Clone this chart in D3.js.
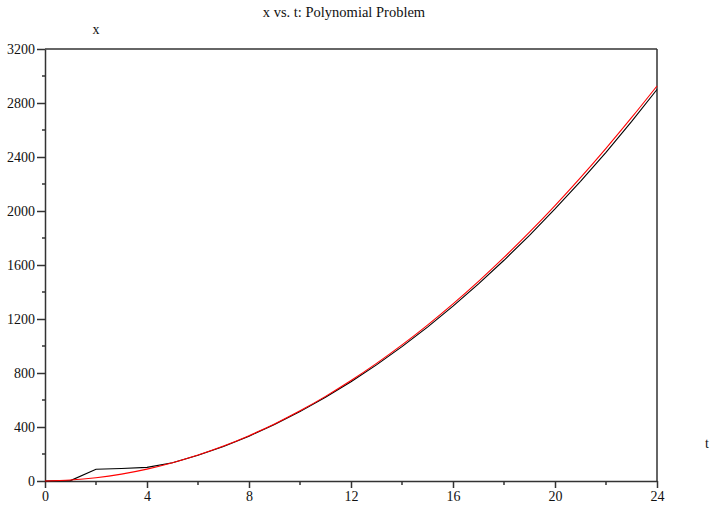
<!DOCTYPE html>
<html>
<head>
<meta charset="utf-8">
<script src="https://cdn.jsdelivr.net/npm/d3@7"></script>
<style>
  body { margin: 0; background: #fff; }
  svg text { font-family: "Liberation Serif", "Times New Roman", serif; fill: #111; }
</style>
</head>
<body>
<div id="chart"></div>
<script>
// values
const tValues = [0, 1, 2, 3, 4, 5, 6, 7, 8, 9, 10, 11, 12, 13, 14, 15, 16, 17, 18, 19, 20, 21, 22, 23, 24];
const exactX  = [0, 7, 24, 51, 88, 135, 192, 259, 336, 423, 520, 627, 744, 871, 1008, 1155, 1312, 1479, 1656, 1843, 2040, 2247, 2464, 2691, 2926];
const approxX = [0, 3, 87, 93, 101, 135, 190, 256, 332, 418, 514, 620, 735, 860, 995, 1140, 1295, 1460, 1635, 1820, 2015, 2220, 2435, 2662, 2900];
const xTicks = [0, 4, 8, 12, 16, 20, 24];
const xMinor = [2, 6, 10, 14, 18, 22];
const yTicks = [0, 400, 800, 1200, 1600, 2000, 2400, 2800, 3200];
const yMinor = [200, 600, 1000, 1400, 1800, 2200, 2600, 3000];

const W = 711, H = 505;
const margin = { top: 49, right: 54, bottom: 24, left: 45 },
  width = W - margin.left - margin.right,
  height = H - margin.top - margin.bottom;

const svg = d3.select("#chart")
  .append("svg")
  .attr("width", W)
  .attr("height", H);

const g = svg.append("g")
  .attr("transform", `translate(${margin.left},${margin.top})`);

const x = d3.scaleLinear().domain([0, 24]).range([0, width]);
const y = d3.scaleLinear().domain([0, 3200]).range([height, 0]);

const axisColor = "#333";

// frame (top and right)
g.append("line")
  .attr("x1", 0).attr("x2", width).attr("y1", 0).attr("y2", 0)
  .attr("stroke", axisColor).attr("stroke-width", 1.5);
g.append("line")
  .attr("x1", width).attr("x2", width).attr("y1", 0).attr("y2", height)
  .attr("stroke", axisColor).attr("stroke-width", 1.5);

// bottom axis
const xAxis = g.append("g")
  .attr("transform", `translate(0,${height})`)
  .call(d3.axisBottom(x).tickValues(xTicks).tickFormat(d3.format("d"))
    .tickSize(7).tickPadding(3).tickSizeOuter(0));
xAxis.append("g").selectAll("line")
  .data(xMinor)
  .join("line")
  .attr("x1", d => x(d)).attr("x2", d => x(d))
  .attr("y1", 0).attr("y2", 4)
  .attr("stroke", axisColor).attr("stroke-width", 1.5);

// left axis
const yAxis = g.append("g")
  .call(d3.axisLeft(y).tickValues(yTicks).tickFormat(d3.format("d"))
    .tickSize(8).tickPadding(2).tickSizeOuter(0));
yAxis.append("g").selectAll("line")
  .data(yMinor)
  .join("line")
  .attr("x1", 0).attr("x2", -3)
  .attr("y1", d => y(d)).attr("y2", d => y(d))
  .attr("stroke", axisColor).attr("stroke-width", 1.5);

[xAxis, yAxis].forEach(a => {
  a.attr("font-family", null);
  a.select(".domain").attr("stroke", axisColor).attr("stroke-width", 1.5);
  a.selectAll(".tick line").attr("stroke", axisColor).attr("stroke-width", 1.5);
  a.selectAll(".tick text")
    .style("font-family", "'Liberation Serif', 'Times New Roman', serif")
    .style("font-size", "14px")
    .attr("fill", "#111");
});

// lines
const rows = tValues.map((t, i) => ({ t, exact: exactX[i], approx: approxX[i] }));

g.append("path")
  .datum(rows)
  .attr("fill", "none")
  .attr("stroke", "#000")
  .attr("stroke-width", 1.1)
  .attr("d", d3.line().x(d => x(d.t)).y(d => y(d.approx)));

g.append("path")
  .datum(rows)
  .attr("fill", "none")
  .attr("stroke", "#ff0000")
  .attr("stroke-width", 1.1)
  .attr("d", d3.line().curve(d3.curveMonotoneX).x(d => x(d.t)).y(d => y(d.exact)));

// title and axis labels
svg.append("text")
  .attr("x", 344)
  .attr("y", 17)
  .attr("text-anchor", "middle")
  .style("font-size", "14.5px")
  .text("x vs. t: Polynomial Problem");

svg.append("text")
  .attr("x", 96)
  .attr("y", 34)
  .attr("text-anchor", "middle")
  .style("font-size", "14px")
  .text("x");

svg.append("text")
  .attr("x", 707)
  .attr("y", 448)
  .attr("text-anchor", "middle")
  .style("font-size", "14px")
  .text("t");
</script>
</body>
</html>
